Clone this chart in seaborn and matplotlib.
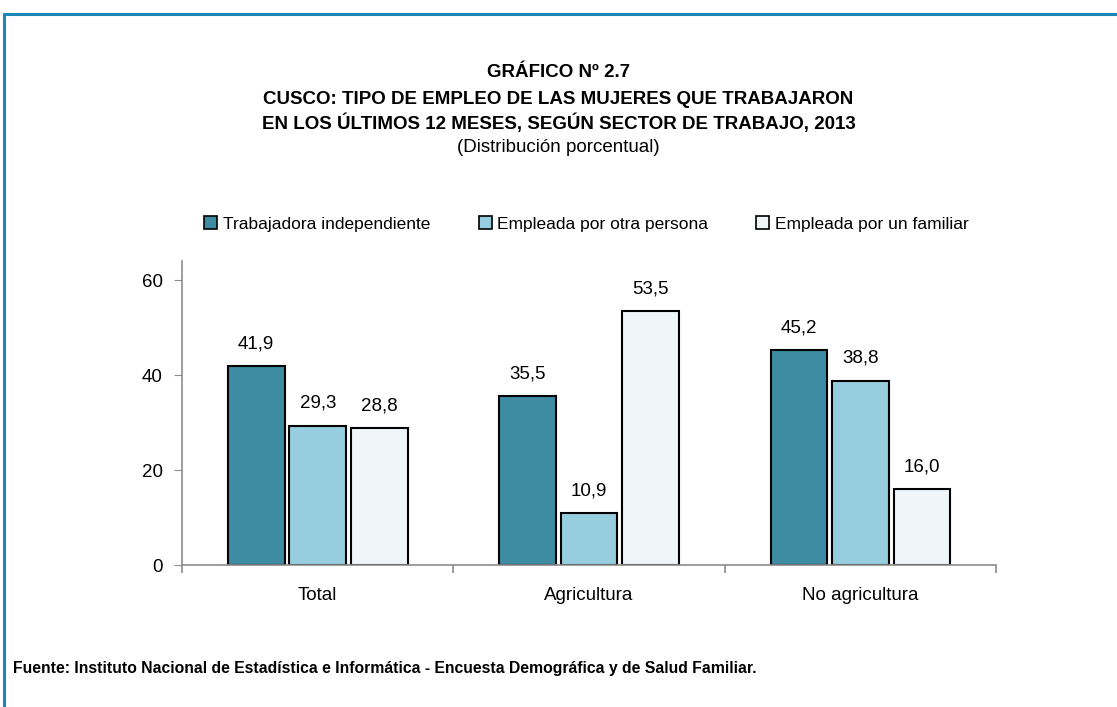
import matplotlib.pyplot as plt
import matplotlib.lines as mlines
import matplotlib.patches as mpatches
import seaborn as sns
import pandas as pd

sectores = ['Total', 'Agricultura', 'No agricultura']
tipos = ['Trabajadora independiente', 'Empleada por otra persona', 'Empleada por un familiar']
independiente = [41.9, 35.5, 45.2]
otra_persona = [29.3, 10.9, 38.8]
familiar = [28.8, 53.5, 16.0]

colores = ['#3E8BA4', '#96CDDF', '#EEF6F9']

data = pd.DataFrame({
    'sector': sectores * 3,
    'tipo': [tipos[0]] * 3 + [tipos[1]] * 3 + [tipos[2]] * 3,
    'valor': independiente + otra_persona + familiar,
})

sns.set_style('white')
plt.rcParams['font.family'] = ['Liberation Sans', 'DejaVu Sans']
plt.rcParams['text.color'] = 'black'
plt.rcParams['xtick.color'] = 'black'
plt.rcParams['ytick.color'] = 'black'

fig = plt.figure(figsize=(11.17, 7.07), dpi=100)
ax = fig.add_axes([0.163, 0.2008, 0.7287, 0.43])

sns.barplot(data=data, x='sector', y='valor', hue='tipo', order=sectores, hue_order=tipos,
            palette=colores, saturation=1, width=0.68, gap=0.08, edgecolor='black', linewidth=1.5,
            legend=False, ax=ax)

for cont in ax.containers:
    ax.bar_label(cont, labels=[f'{v:.1f}'.replace('.', ',') for v in cont.datavalues],
                 padding=10, fontsize=13.5)

ax.set_ylim(0, 64)
ax.set_xlim(-0.5, 2.5)
ax.set_yticks([0, 20, 40, 60])
ax.set_xlabel('')
ax.set_ylabel('')
for s in ['top', 'right']:
    ax.spines[s].set_visible(False)
for s in ['left', 'bottom']:
    ax.spines[s].set_color('#8C8C8C')
    ax.spines[s].set_linewidth(1.2)
ax.tick_params(axis='y', left=True, length=6, color='#8C8C8C', labelsize=13.5, pad=8)
ax.tick_params(axis='x', bottom=False, labelsize=13.5, pad=12)
# category boundary ticks, Excel style
ax.set_xticks([-0.5, 0.5, 1.5, 2.5], minor=True)
ax.tick_params(axis='x', which='minor', bottom=True, length=6, color='#8C8C8C', width=1.2)

handles = [mpatches.Patch(facecolor=c, edgecolor='black', linewidth=1.2) for c in colores]
fig.legend(handles, tipos, loc='center', bbox_to_anchor=(0.525, 0.683), ncol=3, frameon=False,
           fontsize=12.5, handlelength=0.75, handleheight=0.75, handletextpad=0.3, columnspacing=2.8)

fig.text(0.5, 0.897, 'GRÁFICO Nº 2.7', ha='center', va='center', fontsize=13.5, fontweight='bold')
fig.text(0.5, 0.859, 'CUSCO: TIPO DE EMPLEO DE LAS MUJERES QUE TRABAJARON', ha='center', va='center',
         fontsize=13.5, fontweight='bold')
fig.text(0.5, 0.825, 'EN LOS ÚLTIMOS 12 MESES, SEGÚN SECTOR DE TRABAJO, 2013', ha='center', va='center',
         fontsize=13.5, fontweight='bold')
fig.text(0.5, 0.791, '(Distribución porcentual)', ha='center', va='center', fontsize=13.5)

fig.text(0.012, 0.055, 'Fuente: Instituto Nacional de Estadística e Informática - Encuesta Demográfica y de Salud Familiar.',
         ha='left', va='center', fontsize=11.3, fontweight='bold')

# blue frame
fig.add_artist(mlines.Line2D([0.004, 1.0], [0.980, 0.980], color='#1C86B9', linewidth=2.2))
fig.add_artist(mlines.Line2D([0.004, 0.004], [0.0, 0.980], color='#1C86B9', linewidth=2.2))

fig.savefig('out.png', dpi=100)
